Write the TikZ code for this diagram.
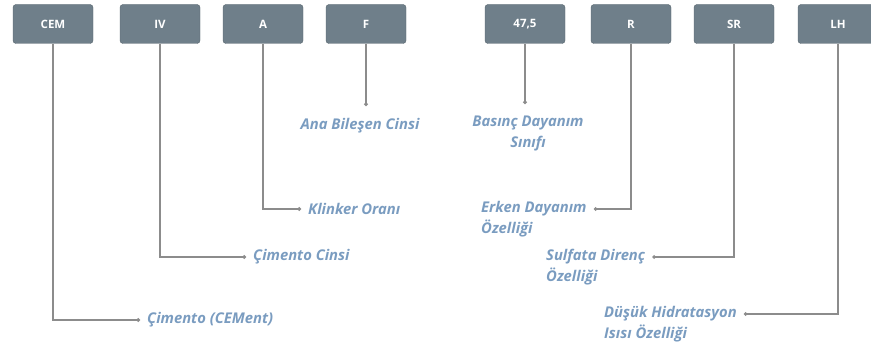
\documentclass[tikz,border=0pt]{standalone}
\usepackage{fontspec}
\setmainfont{Open Sans}
\usepackage{tikz}
\usetikzlibrary{arrows.meta}

\definecolor{boxgray}{HTML}{6F7F8A}
\definecolor{linegray}{HTML}{8C8C8C}
\definecolor{labblue}{HTML}{7A9CC0}

\tikzset{
  code/.style={draw=boxgray!80!black, fill=boxgray, rounded corners=3pt,
    minimum width=80pt, minimum height=39pt, text=white, font=\fontsize{11.5}{13}\selectfont\bfseries},
  conn/.style={linegray, line width=1.3pt, -{Circle[length=3.5pt]}, shorten >=7pt},
  lab/.style={text=labblue, font=\fontsize{14.8}{21}\selectfont\bfseries\itshape, inner sep=0pt}
}

\begin{document}
\begin{tikzpicture}[x=1pt, y=-1pt]
\useasboundingbox (0,0) rectangle (871,352);

\node [code] (cem) at (53,24) {CEM};
\node [code] (iv) at (160,24) {IV};
\node [code] (a) at (263,24) {A};
\node [code] (f) at (366,24) {F};
\node [code] (str) at (525,24) {47,5};
\node [code] (r) at (631,24) {R};
\node [code] (sr) at (734,24) {SR};
\node [code] (lh) at (838,24) {LH};

\node [lab, anchor=west] (cemlab) at (147,320) {Çimento (CEMent)};
\node [lab, anchor=west] (ivlab) at (253,257) {Çimento Cinsi};
\node [lab, anchor=west] (alab) at (308,209) {Klinker Oranı};
\node [lab, anchor=north] (flab) at (360,118) {Ana Bileşen Cinsi};
\node [lab, anchor=north, align=center] (strlab) at (528,116) {Basınç Dayanım\\Sınıfı};
\node [lab, anchor=west, align=left] (rlab) at (481,219.5) {Erken Dayanım\\Özelliği};
\node [lab, anchor=west, align=left] (srlab) at (546,267.5) {Sulfata Direnç\\Özelliği};
\node [lab, anchor=west, align=left] (lhlab) at (604,324.5) {Düşük Hidratasyon\\Isısı Özelliği};

\draw [conn] (cem.south) |- (cemlab.west);
\draw [conn] (iv.south) |- (ivlab.west);
\draw [conn] (a.south) |- (alab.west);
\draw [conn, shorten >=12pt] (f.south) -- (f.south |- flab.north);
\draw [conn, shorten >=12pt] (str.south) -- (str.south |- strlab.north);
\draw [conn] (r.south) |- ([yshift=10.5pt]rlab.east);
\draw [conn] (sr.south) |- ([yshift=10.5pt]srlab.east);
\draw [conn] (lh.south) |- ([yshift=10.5pt]lhlab.east);
\end{tikzpicture}
\end{document}
